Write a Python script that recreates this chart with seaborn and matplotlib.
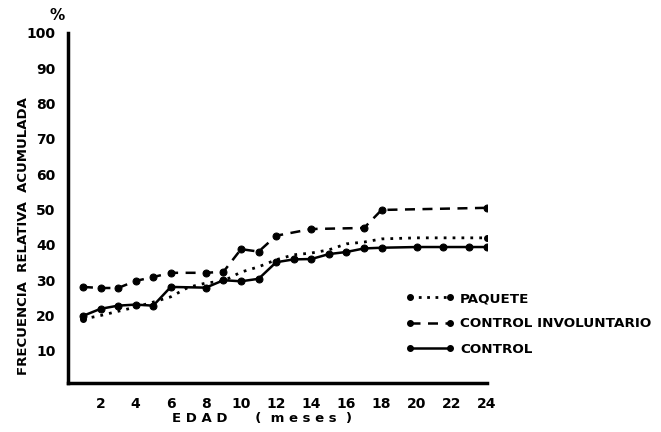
import matplotlib
matplotlib.use("Agg")
import matplotlib.pyplot as plt
import seaborn as sns
import numpy as np
from matplotlib.lines import Line2D

sns.set_theme(style="white")
plt.rcParams['font.family'] = ['DejaVu Sans']
plt.rcParams['text.color'] = 'black'
plt.rcParams['axes.labelcolor'] = 'black'

# Data
meses_control = [1, 2, 3, 4, 5, 6, 8, 9, 10, 11, 12, 13, 14, 15, 16, 17, 18, 20, 21.5, 23, 24]
control = [19.9, 21.9, 22.8, 23.1, 22.8, 28.1, 27.9, 30.0, 29.7, 30.4, 35.1, 35.9, 36.0, 37.4, 38.0, 39.0, 39.2, 39.4, 39.4, 39.4, 39.4]

meses_invol = [1, 2, 3, 4, 5, 6, 8, 9, 10, 11, 12, 14, 17, 18, 24]
involuntario = [28.1, 27.8, 27.8, 29.8, 30.9, 32.1, 32.1, 32.4, 38.8, 38.1, 42.6, 44.5, 44.8, 49.9, 50.5]

meses_paquete = [1, 2, 3, 4, 5, 6, 7, 8, 9, 10, 11, 12, 13, 14, 15, 16, 17, 18, 20, 22, 24]
paquete = [19.0, 20.0, 21.2, 22.4, 23.8, 25.3, 28.0, 29.2, 29.8, 32.3, 33.8, 35.8, 37.2, 37.7, 38.6, 40.3, 40.8, 41.7, 42.0, 42.0, 42.0]

x_ticks = [2, 4, 6, 8, 10, 12, 14, 16, 18, 20, 22, 24]
y_ticks = [10, 20, 30, 40, 50, 60, 70, 80, 90, 100]

fig = plt.figure(figsize=(6.61, 4.32), dpi=100)
ax = fig.add_axes([68/661, 1-383/432, (487-68)/661, (383-33)/432])

sns.lineplot(x=meses_paquete, y=paquete, ax=ax, color="black", linewidth=2.0,
             linestyle=(0, (1, 2.2)), estimator=None, sort=False)
ax.plot([meses_paquete[0], meses_paquete[-1]], [paquete[0], paquete[-1]], 'o',
        color='black', markersize=4)
sns.lineplot(x=meses_invol, y=involuntario, ax=ax, color="black", linewidth=1.8,
             linestyle=(0, (4, 3)), marker="o", markersize=5, markeredgecolor="black",
             estimator=None, sort=False)
sns.lineplot(x=meses_control, y=control, ax=ax, color="black", linewidth=1.8,
             linestyle="-", marker="o", markersize=5, markeredgecolor="black",
             estimator=None, sort=False)

ax.set_xlim(0.15, 24.0)
ax.set_ylim(0.9, 100)
ax.set_xticks(x_ticks)
ax.set_xticklabels([str(t) for t in x_ticks], fontsize=10, fontweight="bold")
ax.set_yticks(y_ticks)
ax.set_yticklabels([str(t) for t in y_ticks], fontsize=10, fontweight="bold")
ax.tick_params(axis="both", direction="out", length=6, width=1.8, colors="black",
               labelcolor="black", pad=3)
ax.tick_params(axis="x", pad=4)

for s in ["top", "right"]:
    ax.spines[s].set_visible(False)
for s in ["left", "bottom"]:
    ax.spines[s].set_color("black")
    ax.spines[s].set_linewidth(2.5)

ax.set_xlabel("E D A D      (  m e s e s  )", fontsize=9.5, fontweight="bold")
ax.xaxis.set_label_coords((262-68)/419, -(412-383)/350)
ax.xaxis.label.set_va("top")
ax.set_ylabel("FRECUENCIA  RELATIVA  ACUMULADA", fontsize=9.5, fontweight="bold")
ax.yaxis.set_label_coords(-(68-30)/419, (383-236)/350)
fig.text(57/661, 1-15/432, "%", fontsize=11, fontweight="bold", ha="center", va="center")

handles = [
    Line2D([0], [0], color="black", linestyle=(0, (1, 2)), linewidth=2, marker="o", markersize=4),
    Line2D([0], [0], color="black", linestyle=(0, (4, 3)), linewidth=1.8, marker="o", markersize=4),
    Line2D([0], [0], color="black", linestyle="-", linewidth=1.8, marker="o", markersize=4),
]
labels = ["PAQUETE", "CONTROL INVOLUNTARIO", "CONTROL"]
leg = ax.legend(handles, labels, loc="upper left", frameon=False, numpoints=2,
                handlelength=3.6, handletextpad=0.4, labelspacing=0.92,
                borderpad=0, borderaxespad=0,
                prop={"weight": "bold", "size": 9.7})
leg.set_bbox_to_anchor((406/661, 1-292/432), transform=fig.transFigure)
for t in leg.get_texts():
    t.set_color("black")

fig.savefig("out.png", dpi=100)
